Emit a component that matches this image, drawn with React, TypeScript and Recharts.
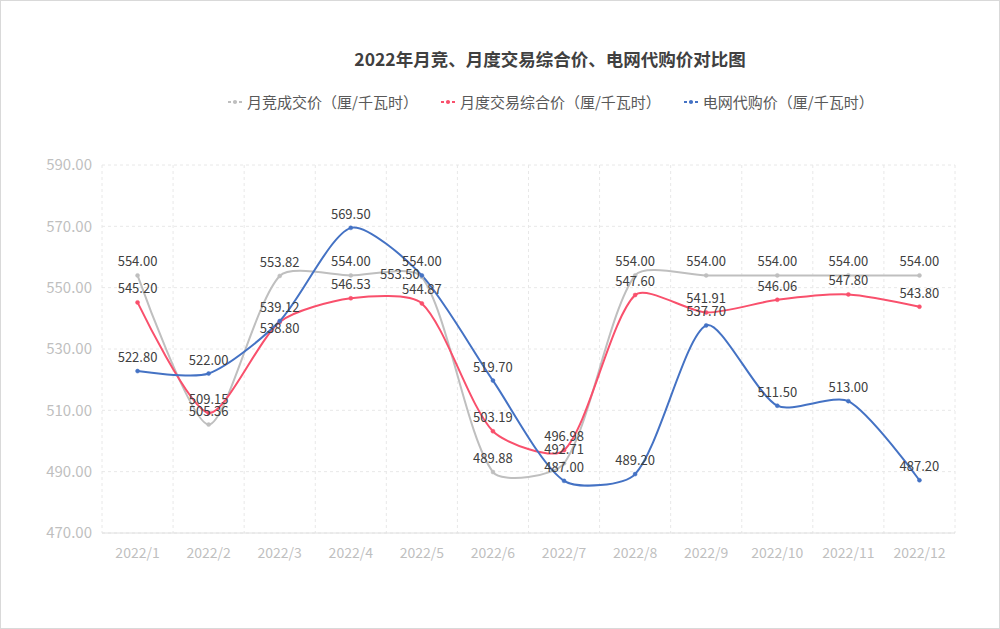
import { LineChart, Line, XAxis, YAxis, CartesianGrid } from "recharts";

const months = [
  "2022/1", "2022/2", "2022/3", "2022/4", "2022/5", "2022/6",
  "2022/7", "2022/8", "2022/9", "2022/10", "2022/11", "2022/12",
];
const monthlyBid = [554.0, 505.36, 553.82, 554.0, 553.5, 489.88, 492.71, 554.0, 554.0, 554.0, 554.0, 554.0];
const monthlyComposite = [545.2, 509.15, 538.8, 546.53, 544.87, 503.19, 496.98, 547.6, 541.91, 546.06, 547.8, 543.8];
const gridAgency = [522.8, 522.0, 539.12, 569.5, 554.0, 519.7, 487.0, 489.2, 537.7, 511.5, 513.0, 487.2];
const yTicks = [470, 490, 510, 530, 550, 570, 590];

const series = [
  { key: "bid", name: "月竞成交价（厘/千瓦时）", color: "#bfbfbf", values: monthlyBid },
  { key: "composite", name: "月度交易综合价（厘/千瓦时）", color: "#f9506c", values: monthlyComposite },
  { key: "agency", name: "电网代购价（厘/千瓦时）", color: "#4472c4", values: gridAgency },
];

const data = months.map((m, i) => ({
  month: m,
  bid: monthlyBid[i],
  composite: monthlyComposite[i],
  agency: gridAgency[i],
}));

const FONT = '"Noto Sans CJK SC", "Noto Sans", sans-serif';

// echarts-style smooth bezier
function echartsSmooth(context: any) {
  let pts: number[][] = [];
  const s = 0.25;
  return {
    areaStart() {},
    areaEnd() {},
    lineStart() {
      pts = [];
    },
    point(x: number, y: number) {
      pts.push([+x, +y]);
    },
    lineEnd() {
      const n = pts.length;
      if (!n) return;
      const cpIn: number[][] = [];
      const cpOut: number[][] = [];
      for (let i = 0; i < n; i++) {
        const [x, y] = pts[i];
        if (i === 0 || i === n - 1) {
          cpIn.push([x, y]);
          cpOut.push([x, y]);
          continue;
        }
        const [px, py] = pts[i - 1];
        const [nx, ny] = pts[i + 1];
        const vx = nx - px;
        const vy = ny - py;
        const d0 = Math.hypot(x - px, y - py);
        const d1 = Math.hypot(nx - x, ny - y);
        const r = d0 + d1 === 0 ? 0.5 : d1 / (d0 + d1);
        cpOut.push([x + vx * s * r, y + vy * s * r]);
        cpIn.push([x - vx * s * (1 - r), y - vy * s * (1 - r)]);
      }
      context.moveTo(pts[0][0], pts[0][1]);
      for (let i = 1; i < n; i++) {
        context.bezierCurveTo(cpOut[i - 1][0], cpOut[i - 1][1], cpIn[i][0], cpIn[i][1], pts[i][0], pts[i][1]);
      }
    },
  };
}

// a couple of labels were nudged in the original to avoid overlap
const makeLabel = (key: string) => (props: any) => {
  const { x, y, value, index } = props;
  if (value == null) return null;
  let dx = 0;
  let dy = -9;
  if (key === "bid" && index === 4) {
    dx = -22;
    dy = 2;
  }
  if (key === "composite" && index === 2) {
    dy = 11;
  }
  return (
    <text
      x={x + dx}
      y={y + dy}
      textAnchor="middle"
      fill="#404040"
      fontSize={13}
      fontFamily={FONT}
    >
      {Number(value).toFixed(2)}
    </text>
  );
};

const LegendIcon = ({ color }: { color: string }) => (
  <svg width={16} height={8} style={{ marginRight: 4 }}>
    <line x1={1} y1={4} x2={15} y2={4} stroke={color} strokeWidth={2} strokeDasharray="3 2.5" />
    <circle cx={8} cy={4} r={2} fill={color} />
  </svg>
);

export default function App() {
  return (
    <div
      style={{
        position: "absolute",
        left: 0,
        top: 0,
        width: 998,
        height: 627,
        border: "1px solid #d9d9d9",
        background: "#fff",
        fontFamily: FONT,
      }}
    >
      <div
        style={{
          position: "absolute",
          top: 45,
          left: 0,
          width: 1098,
          textAlign: "center",
          fontSize: 17.5,
          fontWeight: 700,
          color: "#404040",
        }}
      >
        2022年月竞、月度交易综合价、电网代购价对比图
      </div>
      <div
        style={{
          position: "absolute",
          top: 90,
          left: 226,
          display: "flex",
          alignItems: "center",
          fontSize: 15,
          color: "#595959",
        }}
      >
        {series.map((s) => (
          <div key={s.key} style={{ display: "flex", alignItems: "center", marginRight: 22 }}>
            <LegendIcon color={s.color} />
            <span>{s.name}</span>
          </div>
        ))}
      </div>
      <LineChart
        width={1000}
        height={629}
        data={data}
        margin={{ top: 165, right: 45, bottom: 66, left: 22 }}
        style={{ position: "absolute", left: -1, top: -1 }}
      >
        <CartesianGrid
          stroke="#e8e8e8"
          strokeDasharray="3 3"
          verticalCoordinatesGenerator={({ offset }: any) =>
            months.map((_, i) => offset.left + (i * offset.width) / months.length).concat([offset.left + offset.width])
          }
        />
        <XAxis
          dataKey="month"
          scale="band"
          tickLine={false}
          axisLine={{ stroke: "#e0e0e0" }}
          tick={{ fill: "#bfbfbf", fontSize: 14, fontFamily: FONT }}
          tickMargin={9}
          height={30}
          interval={0}
        />
        <YAxis
          domain={[470, 590]}
          ticks={yTicks}
          width={80}
          tickLine={false}
          axisLine={false}
          tick={{ fill: "#bfbfbf", fontSize: 15, fontFamily: FONT }}
          tickMargin={4}
          tickFormatter={(v: number) => v.toFixed(2)}
          allowDataOverflow
        />
        {series.map((s) => (
          <Line
            key={s.key}
            dataKey={s.key}
            name={s.name}
            type={echartsSmooth as any}
            stroke={s.color}
            strokeWidth={2}
            dot={{ r: 2, fill: s.color, stroke: s.color, strokeWidth: 0.5 }}
            label={makeLabel(s.key)}
            isAnimationActive={false}
          />
        ))}
      </LineChart>
    </div>
  );
}
